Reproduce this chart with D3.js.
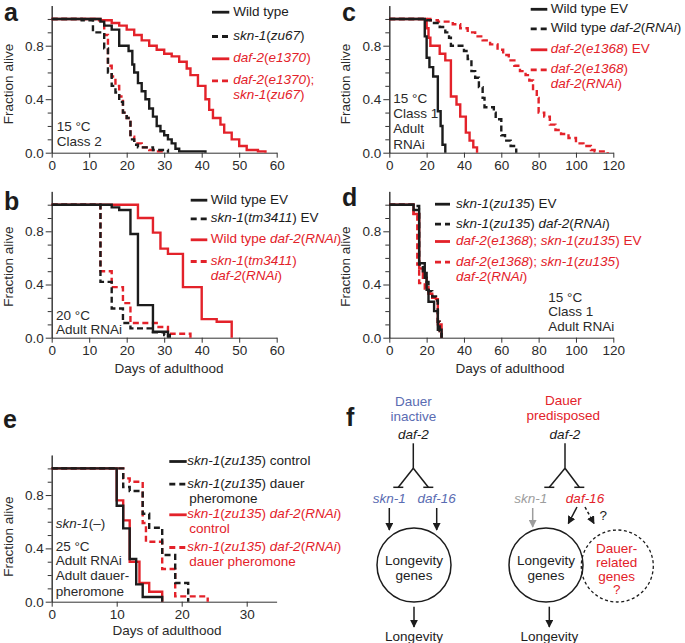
<!DOCTYPE html>
<html>
<head>
<meta charset="utf-8">
<script src="https://cdn.jsdelivr.net/npm/d3@7"></script>
<style>
  body { margin: 0; background: #fff; }
  svg { display: block; font-family: "Liberation Sans", Arial, Helvetica, sans-serif; }
</style>
</head>
<body>
<svg id="fig" width="685" height="643"></svg>
<script>
const RED = '#e3222a', INK = '#1c1c1c', BLUE = '#5a6cb2', GREY = '#9d9d9d';

// ---- survival curves, [day, fraction alive]
// panel a: 15 C, class 2
const aWildType = [[0,1],[13,0.98],[14,0.95],[16,0.92],[18,0.8],[20.5,0.76],[21.5,0.66],[22,0.6],[23,0.52],[24,0.46],[25,0.4],[26,0.33],[27,0.27],[28,0.2],[29,0.16],[30,0.13],[31,0.1],[32,0.07],[33,0.03],[34,0.01],[41,0]];
const aSkn1 = [[0,1],[8,0.99],[11,0.9],[14,0.78],[15,0.6],[16,0.5],[17,0.45],[18,0.38],[19,0.3],[20,0.26],[21,0.1],[22,0.06],[23,0.04],[27,0.02],[31,0]];
const aDaf2 = [[0,1],[13,0.99],[16,0.97],[18,0.95],[20,0.92],[22,0.88],[24,0.84],[26,0.8],[28,0.77],[30,0.74],[32,0.72],[34,0.68],[36,0.63],[37,0.58],[39,0.5],[41,0.4],[42,0.32],[43,0.26],[45,0.21],[46,0.15],[48,0.1],[50,0.05],[52,0.02],[55,0.01],[57,0]];
const aDaf2Skn1 = [[0,1],[12,0.99],[14,0.88],[15,0.65],[16,0.57],[17,0.5],[18,0.42],[19,0.3],[20,0.26],[21,0.12],[22,0.07],[24,0.04],[26,0.02],[28,0.01],[30,0]];

// panel b: 20 C, adult RNAi
const bWildTypeEV = [[0,1],[16,0.98],[18,0.96],[21,0.78],[23,0.245],[27,0.045],[31,0]];
const bSkn1EV = [[0,1],[13,0.42],[16,0.22],[19,0.11],[21,0.07],[27,0.04],[30,0.02],[31.5,0]];
const bWildTypeDaf2 = [[0,1],[23,0.9],[27,0.79],[29,0.67],[31,0.63],[35,0.38],[40,0.14],[44,0.12],[48,0]];
const bSkn1Daf2 = [[0,1],[13,0.5],[16,0.38],[19,0.26],[21,0.11],[28,0.08],[31,0.03],[37,0]];

// panel c: 15 C, class 1, adult RNAi
const cWildTypeEV = [[0,1],[19,0.87],[20,0.71],[21.5,0.64],[23.5,0.57],[26,0.31],[27.5,0.2],[28.5,0.06],[30,0]];
const cWildTypeDaf2 = [[0,1],[20,0.99],[23,0.97],[27,0.94],[30,0.9],[32,0.86],[33,0.8],[40,0.76],[42,0.7],[44,0.61],[46,0.56],[48,0.49],[50,0.41],[51,0.34],[56,0.3],[57,0.25],[60,0.13],[62,0.09],[65,0.05],[68,0]];
const cDaf2EV = [[0,1],[20,0.93],[21,0.86],[22,0.8],[27,0.74],[30,0.69],[33,0.42],[36,0.36],[38,0.27],[41,0.15],[43,0.09],[45,0.04],[47,0]];
const cDaf2Daf2 = [[0,1],[22,0.99],[26,0.98],[34,0.96],[38,0.93],[42,0.9],[46,0.87],[50,0.84],[54,0.81],[58,0.77],[61,0.73],[64,0.69],[67,0.65],[70,0.61],[73,0.58],[75,0.54],[77,0.46],[79,0.41],[80,0.3],[83,0.27],[86,0.21],[89,0.17],[92,0.14],[96,0.11],[100,0.07],[104,0.05],[108,0.02],[110,0.01],[117,0]];

// panel d: 15 C, class 1, adult RNAi, skn-1(zu135) background
const dSkn1EV = [[0,1],[13,0.96],[16,0.56],[19,0.45],[20,0.36],[21,0.27],[24,0.2],[26,0.06],[28,0]];
const dSkn1Daf2 = [[0,1],[14,0.99],[16,0.55],[18,0.5],[20,0.42],[21,0.35],[23,0.31],[25,0.28],[26,0.12],[27,0.05],[28,0]];
const dDaf2Skn1EV = [[0,1],[13,0.93],[16,0.52],[18,0.45],[20,0.38],[21,0.33],[23,0.3],[25,0.29],[26,0.1],[28,0]];
const dDaf2Skn1Daf2 = [[0,1],[13,0.92],[15,0.55],[16,0.41],[19,0.37],[21,0.34],[23,0.3],[25,0.29],[26,0.12],[27,0.05],[28,0]];

// panel e: 25 C, adult RNAi, adult dauer pheromone
const eControl = [[0,1],[10,0.72],[11,0.55],[12,0.32],[13,0.13],[14,0.035],[17,0]];
const ePheromone = [[0,1],[11,0.86],[12,0.83],[14,0.66],[15,0.555],[17,0.35],[19,0.14],[21,0]];
const eDaf2Control = [[0,1],[10,0.76],[11,0.61],[12,0.3],[13.5,0.14],[15,0.075],[17,0]];
const eDaf2Pheromone = [[0,1],[11,0.925],[12,0.9],[14,0.59],[14.5,0.45],[17,0.245],[19,0.04],[24,0]];

// tick labels
const yMajorTicks = [0, 0.4, 0.8];
const yMinorTicks = [0.1, 0.2, 0.3, 0.5, 0.6, 0.7, 0.9, 1.0];
const xTicks60 = [0, 10, 20, 30, 40, 50, 60];
const xTicks120 = [0, 20, 40, 60, 80, 100, 120];
const xTicks30 = [0, 10, 20, 30];

// legend labels: '*' toggles italic, '|' breaks the line
const aLabels = ['Wild type', '*skn-1*(*zu67*)', '*daf-2*(*e1370*)', '*daf-2*(*e1370*);|*skn-1*(*zu67*)'];
const bLabels = ['Wild type EV', '*skn-1*(*tm3411*) EV', 'Wild type *daf-2*(*RNAi*)', '*skn-1*(*tm3411*)|*daf-2*(*RNAi*)'];
const cLabels = ['Wild type EV', 'Wild type *daf-2*(*RNAi*)', '*daf-2*(*e1368*) EV', '*daf-2*(*e1368*)|*daf-2*(*RNAi*)'];
const dLabels = ['*skn-1*(*zu135*) EV', '*skn-1*(*zu135*) *daf-2*(*RNAi*)', '*daf-2*(*e1368*); *skn-1*(*zu135*) EV', '*daf-2*(*e1368*); *skn-1*(*zu135*)|*daf-2*(*RNAi*)'];
const eLabels = ['*skn-1*(*zu135*) control', '*skn-1*(*zu135*) dauer|pheromone', '*skn-1*(*zu135*) *daf-2*(*RNAi*)|control', '*skn-1*(*zu135*) *daf-2*(*RNAi*)|dauer pheromone'];

const FS = 13.5;
const svg = d3.select('#fig');

function rich(g, str, x, y, color, anchor) {
  const t = g.append('text')
    .attr('x', x).attr('y', y)
    .attr('fill', color || INK)
    .attr('font-size', FS)
    .attr('text-anchor', anchor || 'start');
  str.split('*').forEach((part, i) => {
    if (!part) return;
    t.append('tspan').attr('font-style', i % 2 ? 'italic' : null).text(part);
  });
  return t;
}

// every panel uses the same four styles, in legend order
const seriesStyle = [{c: INK, dash: false}, {c: INK, dash: true}, {c: RED, dash: false}, {c: RED, dash: true}];

const panels = [
  { id: 'a', series: [aWildType, aSkn1, aDaf2, aDaf2Skn1], labels: aLabels,
    xMax: 60, xEnd: 60, ticks: xTicks60, left: 51.7, right: 276.7, base: 152.7, unit: 133.75,
    letter: [4, 21], ylab: [13, 84], xlab: null,
    leg: {x0: 212, x1: 229.3, tx: 233.3, rows: [10.7, 35, 57.3, 79.3]},
    notes: [['15 °C', 56.7, 126], ['Class 2', 56.7, 140.7]] },
  { id: 'b', series: [bWildTypeEV, bSkn1EV, bWildTypeDaf2, bSkn1Daf2], labels: bLabels,
    xMax: 60, xEnd: 60, ticks: xTicks60, left: 51.7, right: 276.7, base: 337.7, unit: 133,
    letter: [4, 210], ylab: [13, 266.7], xlab: [169, 368],
    leg: {x0: 190.7, x1: 207.3, tx: 210.7, rows: [198.7, 217.3, 238.3, 260]},
    notes: [['20 °C', 56, 315.5], ['Adult RNAi', 56, 329]] },
  { id: 'c', series: [cWildTypeEV, cWildTypeDaf2, cDaf2EV, cDaf2Daf2], labels: cLabels,
    xMax: 120, xEnd: 120, ticks: xTicks120, left: 389.3, right: 613.3, base: 152.7, unit: 133.75,
    letter: [342, 21], ylab: [350, 84], xlab: null,
    leg: {x0: 530.7, x1: 547.3, tx: 550.7, rows: [7.8, 27.3, 48.3, 68.3]},
    notes: [['15 °C', 393.3, 98.3], ['Class 1', 393.3, 113.3], ['Adult', 393.3, 128.3], ['RNAi', 393.3, 144]] },
  { id: 'd', series: [dSkn1EV, dSkn1Daf2, dDaf2Skn1EV, dDaf2Skn1Daf2], labels: dLabels,
    xMax: 120, xEnd: 120, ticks: xTicks120, left: 389.3, right: 613.3, base: 337.7, unit: 133,
    letter: [342, 206], ylab: [350, 266.7], xlab: [510, 368],
    leg: {x0: 435, x1: 450, tx: 456, rows: [202.7, 222.7, 240, 260.7]},
    notes: [['15 °C', 548.3, 296.7], ['Class 1', 548.3, 310.7], ['Adult RNAi', 548.3, 326]] },
  { id: 'e', series: [eControl, ePheromone, eDaf2Control, eDaf2Pheromone], labels: eLabels,
    xMax: 30, xEnd: 34.6, ticks: xTicks30, left: 51.7, right: 246.7, base: 601.7, unit: 133.3,
    letter: [3, 428], ylab: [13, 536.7], xlab: [167, 630],
    leg: {x0: 169.3, x1: 186.7, tx: 187.3, indent: 189.3, rows: [460, 482.7, 513.3, 546]},
    notes: [['*skn-1*(–)', 55.7, 522.7], ['25 °C', 55.7, 545.7], ['Adult RNAi', 55.7, 560], ['Adult dauer-', 55.7, 575], ['pheromone', 55.7, 590.7]] }
];

panels.forEach(p => {
  const g = svg.append('g').attr('class', 'panel-' + p.id);
  const pxPerDay = (p.right - p.left) / p.xMax;
  const x = d3.scaleLinear().domain([0, p.xEnd]).range([p.left, p.left + pxPerDay * p.xEnd]);
  const y = d3.scaleLinear().domain([0, 1.1]).range([p.base, p.base - 1.1 * p.unit]);

  // axes
  const yMinor = g.append('g').attr('transform', `translate(${p.left},0)`)
    .call(d3.axisLeft(y).tickValues(yMinorTicks).tickSize(4).tickSizeOuter(0).tickFormat(''));
  const yMajor = g.append('g').attr('transform', `translate(${p.left},0)`)
    .call(d3.axisLeft(y).tickValues(yMajorTicks).tickSize(6).tickSizeOuter(0).tickPadding(2).tickFormat(d3.format('.1f')));
  const xAx = g.append('g').attr('transform', `translate(0,${p.base})`)
    .call(d3.axisBottom(x).tickValues(p.ticks).tickSize(5).tickSizeOuter(0).tickPadding(3));
  [yMinor, yMajor, xAx].forEach(a => {
    a.selectAll('path, line').attr('stroke', '#333').attr('stroke-width', 1);
    a.selectAll('text').attr('font-size', FS).attr('fill', '#2a2a2a')
      .attr('font-family', '"Liberation Sans", Arial, sans-serif');
  });

  // curves: red first, black on top
  const line = d3.line().x(d => x(d[0])).y(d => y(d[1])).curve(d3.curveStepAfter);
  [3, 2, 1, 0].forEach(i => {
    const st = seriesStyle[i];
    g.append('path').datum(p.series[i])
      .attr('d', line)
      .attr('fill', 'none')
      .attr('stroke', st.c)
      .attr('stroke-width', 2.4)
      .attr('stroke-dasharray', st.dash ? '6,3.5' : null);
  });

  // legend
  p.labels.forEach((lab, i) => {
    const st = seriesStyle[i];
    const cy = p.leg.rows[i];
    g.append('line')
      .attr('x1', p.leg.x0).attr('x2', p.leg.x1)
      .attr('y1', cy + 1.5).attr('y2', cy + 1.5)
      .attr('stroke', st.c).attr('stroke-width', 2.8)
      .attr('stroke-dasharray', st.dash ? '6,4' : null);
    lab.split('|').forEach((part, k) => {
      const tx = k && p.leg.indent ? p.leg.indent : p.leg.tx;
      rich(g, part, tx, cy + 4.8 + k * 15, st.c === RED ? RED : INK);
    });
  });

  // notes
  p.notes.forEach(n => rich(g, n[0], n[1], n[2] + 4.8, '#2a2a2a'));

  // axis titles
  g.append('text')
    .attr('transform', `translate(${p.ylab[0]},${p.ylab[1]}) rotate(-90)`)
    .attr('text-anchor', 'middle').attr('font-size', FS).attr('fill', '#2a2a2a')
    .text('Fraction alive');
  if (p.xlab) {
    g.append('text').attr('x', p.xlab[0]).attr('y', p.xlab[1] + 4.8)
      .attr('text-anchor', 'middle').attr('font-size', FS).attr('fill', '#2a2a2a')
      .text('Days of adulthood');
  }

  g.append('text').attr('x', p.letter[0]).attr('y', p.letter[1])
    .attr('font-size', 25).attr('font-weight', 'bold').attr('fill', INK)
    .text(p.id);
});

// ---- panel f: model diagram
const f = svg.append('g').attr('class', 'panel-f');
f.append('text').attr('x', 346).attr('y', 426)
  .attr('font-size', 25).attr('font-weight', 'bold').attr('fill', INK).text('f');

const defs = svg.append('defs');
[['arrInk', INK], ['arrGrey', GREY]].forEach(([id, col]) => {
  defs.append('marker').attr('id', id)
    .attr('viewBox', '0 0 10 10').attr('refX', 9).attr('refY', 5)
    .attr('markerUnits', 'userSpaceOnUse')
    .attr('markerWidth', 8).attr('markerHeight', 8).attr('orient', 'auto')
    .append('path').attr('d', 'M0,0 L10,5 L0,10 z').attr('fill', col);
});

function seg(x1, y1, x2, y2, opt) {
  opt = opt || {};
  const l = f.append('line').attr('x1', x1).attr('y1', y1).attr('x2', x2).attr('y2', y2)
    .attr('stroke', opt.c || INK).attr('stroke-width', 1.5);
  if (opt.dash) l.attr('stroke-dasharray', '3,2.5');
  if (opt.arrow) l.attr('marker-end', `url(#${opt.arrow})`);
  return l;
}
function inhibit(cx, topY, lx, rx, y) {
  seg(cx, topY, cx, topY + 25);
  seg(cx, topY + 25, lx, y);
  seg(cx, topY + 25, rx, y);
  seg(lx - 5, y, lx + 5, y);
  seg(rx - 5, y, rx + 5, y);
}
function label(str, x, y, col) { rich(f, str, x, y + 4.8, col, 'middle'); }

// left: dauer inactive
label('Dauer', 413.3, 401.5, BLUE);
label('inactive', 413.3, 416, BLUE);
label('*daf-2*', 413.3, 434.3, INK);
inhibit(413.3, 443.3, 398.3, 428.3, 487.3);
label('*skn-1*', 389.3, 497.7, BLUE);
label('*daf-16*', 436.7, 497.7, BLUE);
seg(389.3, 508, 389.3, 530, {arrow: 'arrInk'});
seg(436.7, 508, 436.7, 530, {arrow: 'arrInk'});
f.append('circle').attr('cx', 414).attr('cy', 565).attr('r', 37)
  .attr('fill', 'none').attr('stroke', INK).attr('stroke-width', 1.5);
label('Longevity', 414, 560, INK);
label('genes', 414, 575, INK);
seg(414, 606.7, 414, 627, {arrow: 'arrInk'});
label('Longevity', 414, 636, INK);

// right: dauer predisposed
label('Dauer', 563.3, 400.5, RED);
label('predisposed', 563.3, 415, RED);
label('*daf-2*', 565, 434.3, INK);
inhibit(565, 443.3, 549.3, 579.3, 487.3);
label('*skn-1*', 530.7, 497.7, GREY);
label('*daf-16*', 585, 497.7, RED);
seg(532.7, 508, 532.7, 527, {c: GREY, arrow: 'arrGrey'});
seg(577, 507, 568.3, 523.5, {arrow: 'arrInk'});
seg(585, 507, 594, 523.5, {dash: true, arrow: 'arrInk'});
label('?', 603.3, 515, INK);
f.append('circle').attr('cx', 617.3).attr('cy', 566).attr('r', 36)
  .attr('fill', 'none').attr('stroke', INK).attr('stroke-width', 1.3).attr('stroke-dasharray', '3,2.5');
f.append('circle').attr('cx', 546).attr('cy', 565).attr('r', 37)
  .attr('fill', 'none').attr('stroke', INK).attr('stroke-width', 1.5);
label('Longevity', 546, 560, INK);
label('genes', 546, 575, INK);
label('Dauer-', 616.7, 548, RED);
label('related', 616.7, 562, RED);
label('genes', 616.7, 576, RED);
label('?', 616.7, 589.5, RED);
seg(549.3, 606.7, 549.3, 627, {arrow: 'arrInk'});
label('Longevity', 549.3, 636, INK);
</script>
</body>
</html>
